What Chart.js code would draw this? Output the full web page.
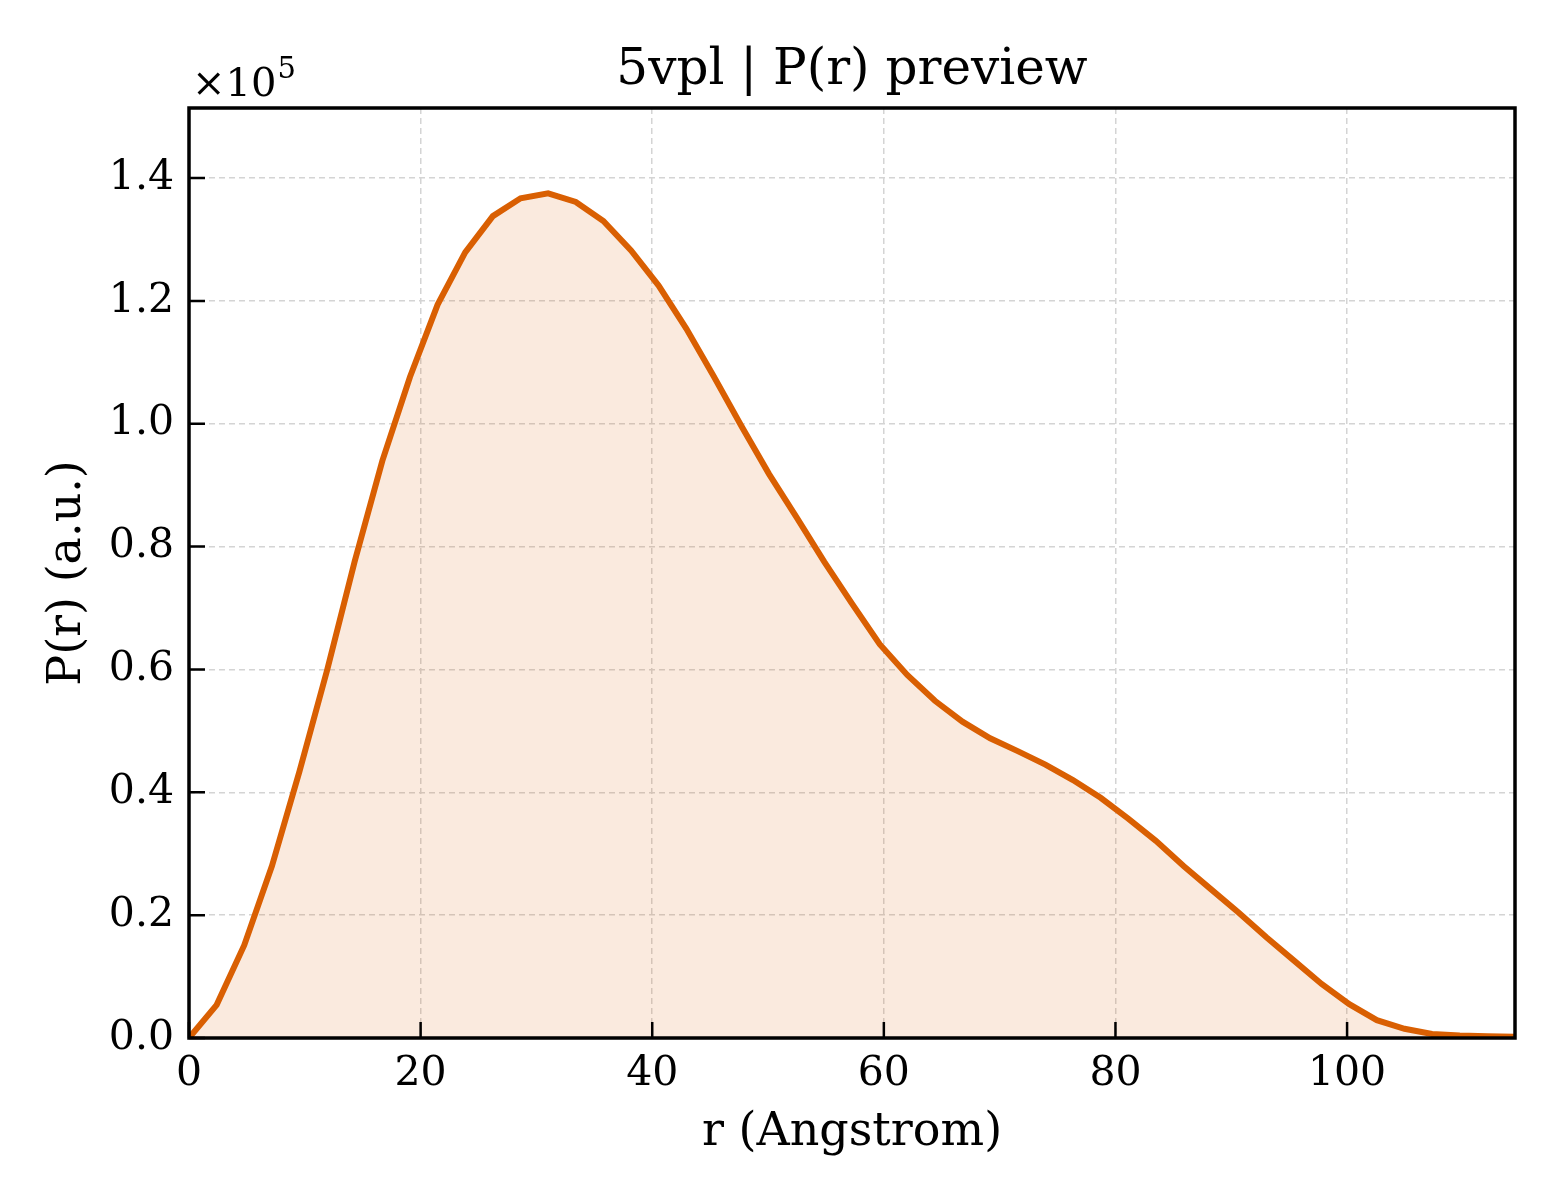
<!DOCTYPE html>
<html>
<head>
<meta charset="utf-8">
<script src="https://cdn.jsdelivr.net/npm/chart.js@4.4.1/dist/chart.umd.min.js"></script>
<style>
  body { margin: 0; background: #fff; }
  #wrap { width: 1560px; height: 1200px; }
</style>
</head>
<body>
<div id="wrap"><canvas id="prChart"></canvas></div>
<script>
// r (Angstrom) sample points
const rValues = [0, 2.39, 4.77, 7.16, 9.54, 11.93, 14.31, 16.70, 19.08, 21.47, 23.85, 26.24,
  28.63, 31.01, 33.40, 35.78, 38.17, 40.55, 42.94, 45.32, 47.71, 50.09, 52.48, 54.86,
  57.25, 59.64, 62.02, 64.41, 66.79, 69.18, 71.56, 73.95, 76.33, 78.72, 81.10, 83.49,
  85.88, 88.26, 90.65, 93.03, 95.42, 97.80, 100.19, 102.57, 104.96, 107.34, 109.73, 112.11, 114.50];

// P(r), arbitrary units
const prValues = [0, 5400, 15100, 28000, 43400, 59900, 77600, 94000, 107600, 119400, 127900, 133800,
  136700, 137500, 136100, 133000, 128200, 122500, 115500, 107700, 99600, 91800, 84700, 77500,
  70700, 64100, 59100, 54900, 51500, 48800, 46700, 44500, 42000, 39100, 35700, 32100,
  28000, 24200, 20400, 16400, 12600, 8800, 5500, 2900, 1500, 650, 400, 300, 200];

const xTickValues = [0, 20, 40, 60, 80, 100];
const yTickValues = [0, 20000, 40000, 60000, 80000, 100000, 120000, 140000];

const chartTitle = "5vpl | P(r) preview";
const xLabel = "r (Angstrom)";
const yLabel = "P(r) (a.u.)";

const FONT = "'DejaVu Serif', 'Liberation Serif', serif";

const points = rValues.map((r, i) => ({ x: r, y: prValues[i] }));

// inward ticks, full frame and the x10^5 offset label
const frameAndTicks = {
  id: "frameAndTicks",
  afterDatasetsDraw(chart) {
    const { ctx, chartArea: a, scales: { x, y } } = chart;
    ctx.save();
    ctx.strokeStyle = "#000";
    ctx.lineWidth = 2.5;
    ctx.beginPath();
    xTickValues.forEach(v => {
      const px = x.getPixelForValue(v);
      ctx.moveTo(px, a.bottom);
      ctx.lineTo(px, a.bottom - 16);
    });
    yTickValues.forEach(v => {
      const py = y.getPixelForValue(v);
      ctx.moveTo(a.left, py);
      ctx.lineTo(a.left + 16, py);
    });
    ctx.stroke();

    ctx.lineWidth = 3.5;
    ctx.strokeRect(a.left, a.top, a.right - a.left, a.bottom - a.top);

    ctx.fillStyle = "#000";
    ctx.textBaseline = "alphabetic";
    ctx.textAlign = "left";
    ctx.font = "40px " + FONT;
    ctx.fillText("×10", a.left + 3, a.top - 12);
    const w = ctx.measureText("×10").width;
    ctx.font = "29px " + FONT;
    ctx.fillText("5", a.left + 3 + w + 1, a.top - 30);
    ctx.restore();
  }
};

new Chart("prChart", {
  type: "line",
  data: {
    datasets: [{
      data: points,
      borderColor: "#d95f02",
      backgroundColor: "rgba(217, 95, 2, 0.13)",
      borderWidth: 6,
      fill: "origin",
      pointRadius: 0,
      tension: 0
    }]
  },
  options: {
    responsive: true,
    maintainAspectRatio: false,
    devicePixelRatio: 1,
    animation: false,
    layout: { padding: { left: 0, right: 45, top: 0, bottom: 0 } },
    scales: {
      x: {
        type: "linear",
        min: 0,
        max: 114.5,
        afterFit: (scale) => { scale.height = 162; },
        afterBuildTicks: (scale) => { scale.ticks = xTickValues.map(v => ({ value: v })); },
        ticks: {
          includeBounds: false,
          padding: 12,
          color: "#000",
          font: { family: FONT, size: 41 },
          maxRotation: 0
        },
        grid: { color: "#d4d4d4", lineWidth: 1.5, drawTicks: false },
        border: { display: false, dash: [6, 4] },
        title: {
          display: true,
          text: xLabel,
          color: "#000",
          font: { family: FONT, size: 46 },
          padding: { top: 0, bottom: 39 }
        }
      },
      y: {
        min: 0,
        max: 151400,
        afterFit: (scale) => { scale.width = 189; },
        afterBuildTicks: (scale) => { scale.ticks = yTickValues.map(v => ({ value: v })); },
        ticks: {
          includeBounds: false,
          padding: 15,
          color: "#000",
          font: { family: FONT, size: 41 },
          callback: (v) => (v / 1e5).toFixed(1)
        },
        grid: { color: "#d4d4d4", lineWidth: 1.5, drawTicks: false },
        border: { display: false, dash: [6, 4] },
        title: {
          display: true,
          text: yLabel,
          color: "#000",
          font: { family: FONT, size: 46 },
          padding: { top: 40, bottom: 0 }
        }
      }
    },
    plugins: {
      legend: { display: false },
      tooltip: { enabled: false },
      title: {
        display: true,
        fullSize: false,
        text: chartTitle,
        color: "#000",
        font: { family: FONT, size: 50, weight: "normal" },
        padding: { top: 41, bottom: 7 }
      }
    }
  },
  plugins: [frameAndTicks]
});
</script>
</body>
</html>
